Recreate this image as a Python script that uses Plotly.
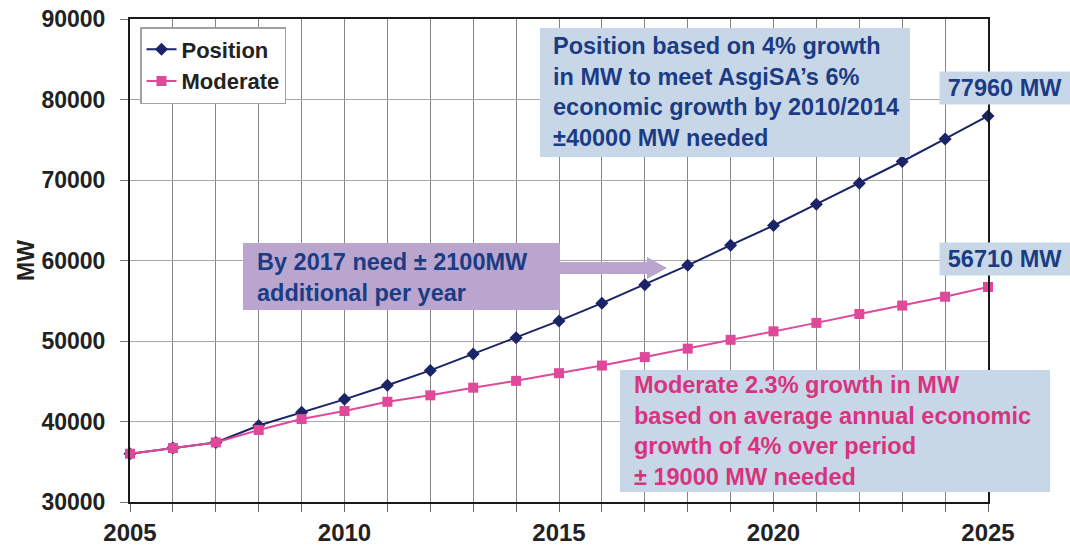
import plotly.graph_objects as go

# Electricity demand outlook, MW per year
years = list(range(2005, 2026))
position = [36000, 36700, 37400, 39500, 41150, 42750, 44500, 46350, 48400, 50400,
            52500, 54700, 57000, 59400, 61900, 64350, 67000, 69600, 72300, 75100, 77960]
moderate = [36000, 36700, 37400, 38950, 40300, 41300, 42450, 43250, 44200, 45050,
            46000, 46950, 48000, 49050, 50150, 51200, 52250, 53350, 54400, 55500, 56710]

y_ticks = [30000, 40000, 50000, 60000, 70000, 80000, 90000]
x_ticks = [2005, 2010, 2015, 2020, 2025]

W, H = 1070, 552
M = dict(l=130, r=82, t=19, b=50)
PW = W - M["l"] - M["r"]
PH = H - M["t"] - M["b"]


def px(xp):
    return (xp - M["l"]) / PW


def py(yp):
    return (H - M["b"] - yp) / PH


FONT = "Liberation Sans, Arial, sans-serif"
NAVY = "#1a2466"
PINK = "#e0489a"
TXT_NAVY = "#1b3c85"
TXT_PINK = "#d8337f"
BOX_BLUE = "#c8d7e7"
BOX_LILAC = "#b9a5cd"

fig = go.Figure()
fig.add_trace(go.Scatter(
    x=years, y=position, name="Position", mode="lines+markers",
    line=dict(color=NAVY, width=2),
    marker=dict(symbol="diamond", size=10, color=NAVY),
    cliponaxis=False,
))
fig.add_trace(go.Scatter(
    x=years, y=moderate, name="Moderate", mode="lines+markers",
    line=dict(color=PINK, width=2),
    marker=dict(symbol="square", size=10, color=PINK),
    cliponaxis=False,
))

shapes = [
    # text panels
    dict(type="rect", xref="paper", yref="paper", layer="above",
         x0=px(540), x1=px(910), y0=py(157), y1=py(28),
         fillcolor=BOX_BLUE, line=dict(width=0)),
    dict(type="rect", xref="paper", yref="paper", layer="above",
         x0=px(243), x1=px(560), y0=py(310), y1=py(243),
         fillcolor=BOX_LILAC, line=dict(width=0)),
    dict(type="rect", xref="paper", yref="paper", layer="above",
         x0=px(620), x1=px(1050), y0=py(492), y1=py(370),
         fillcolor=BOX_BLUE, line=dict(width=0)),
    # block arrow pointing at the Position curve
    dict(type="path", xref="paper", yref="paper", layer="above",
         path=(f"M {px(560)},{py(262)} L {px(647)},{py(262)} L {px(647)},{py(257)} "
               f"L {px(667)},{py(268)} L {px(647)},{py(279)} L {px(647)},{py(274)} "
               f"L {px(560)},{py(274)} Z"),
         fillcolor=BOX_LILAC, line=dict(width=0)),
]

ann_font = dict(family=FONT, size=23.5, weight="bold")
annotations = [
    dict(xref="paper", yref="paper", x=px(551), y=py(92), xanchor="left", yanchor="middle",
         align="left", showarrow=False,
         text=("Position based on 4% growth<br>in MW to meet AsgiSA’s 6%<br>"
               "economic growth by 2010/2014<br>±40000 MW needed"),
         font=dict(ann_font, color=TXT_NAVY)),
    dict(xref="paper", yref="paper", x=px(255), y=py(277), xanchor="left", yanchor="middle",
         align="left", showarrow=False,
         text="By 2017 need ± 2100MW<br>additional per year",
         font=dict(ann_font, color=TXT_NAVY)),
    dict(xref="paper", yref="paper", x=px(632), y=py(431), xanchor="left", yanchor="middle",
         align="left", showarrow=False,
         text=("Moderate 2.3% growth in MW<br>based on average annual economic<br>"
               "growth of 4% over period<br>± 19000 MW needed"),
         font=dict(ann_font, color=TXT_PINK)),
    # end-of-period values
    dict(x=years[-1], y=position[-1], xref="x", yref="y", showarrow=False,
         xshift=17, yshift=28, text=f"{position[-1]} MW", width=124, borderpad=3,
         bgcolor=BOX_BLUE, font=dict(ann_font, color=TXT_NAVY)),
    dict(x=years[-1], y=moderate[-1], xref="x", yref="y", showarrow=False,
         xshift=17, yshift=28, text=f"{moderate[-1]} MW", width=124, borderpad=3,
         bgcolor=BOX_BLUE, font=dict(ann_font, color=TXT_NAVY)),
]

fig.update_layout(
    width=W, height=H, margin=M,
    paper_bgcolor="white", plot_bgcolor="white",
    font=dict(family=FONT, color="#222"),
    shapes=shapes, annotations=annotations,
    legend=dict(
        x=px(140), y=py(27), xanchor="left", yanchor="top",
        bgcolor="white", bordercolor="#a0a0a0", borderwidth=1.5,
        font=dict(family=FONT, size=22, weight="bold", color="#222"),
        tracegroupgap=0, itemwidth=30,
    ),
    showlegend=True,
)

fig.update_xaxes(
    range=[2005, 2025], tickvals=x_ticks, ticktext=[str(v) for v in x_ticks],
    showgrid=True, gridcolor="#858585", gridwidth=1.2,
    ticks="outside", ticklen=8, tickcolor="#666", tickwidth=1.2,
    minor=dict(dtick=1, showgrid=True, gridcolor="#858585", gridwidth=1.2,
               ticks="outside", ticklen=8, tickcolor="#666", tickwidth=1.2),
    showline=True, linecolor="#1a1a1a", linewidth=2, mirror=True,
    tickfont=dict(family=FONT, size=24, weight="bold", color="#222"),
    ticklabelstandoff=0, zeroline=False, automargin=False,
)
fig.update_yaxes(
    range=[30000, 90000], tickvals=y_ticks, ticktext=[str(v) for v in y_ticks],
    showgrid=True, gridcolor="#a8a8a8", gridwidth=1.2,
    ticks="outside", ticklen=8, tickcolor="#777", tickwidth=1.2,
    showline=True, linecolor="#1a1a1a", linewidth=2, mirror=True,
    tickfont=dict(family=FONT, size=23, weight="bold", color="#222"),
    ticklabelstandoff=10, zeroline=False, automargin=False,
    title=dict(text="MW", standoff=0,
               font=dict(family=FONT, size=23, weight="bold", color="#222")),
)

fig.write_html("out.html")
